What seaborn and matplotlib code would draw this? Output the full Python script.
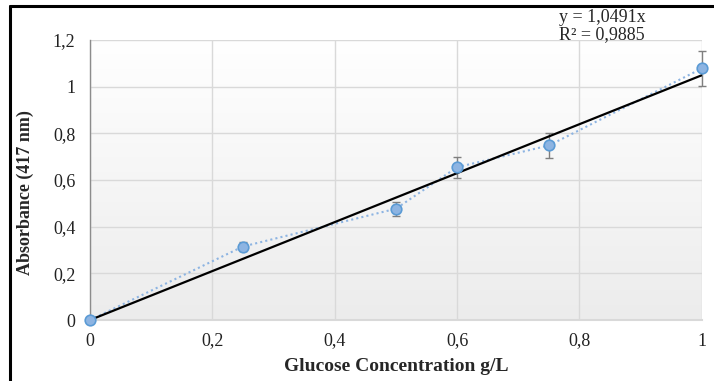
import numpy as np
import pandas as pd
import matplotlib
matplotlib.use("Agg")
import matplotlib.pyplot as plt
from matplotlib.colors import LinearSegmentedColormap
from matplotlib.ticker import FuncFormatter
from matplotlib.lines import Line2D
import seaborn as sns

# data
conc = [0.0, 0.25, 0.5, 0.6, 0.75, 1.0]
absorb = [0.0, 0.315, 0.477, 0.655, 0.748, 1.078]
err = [0.0, 0.02, 0.03, 0.045, 0.052, 0.075]
slope = 1.0491
eq_text = "y = 1,0491x"
r2_text = "R² = 0,9885"
x_ticks = [0, 0.2, 0.4, 0.6, 0.8, 1.0]
y_ticks = [0, 0.2, 0.4, 0.6, 0.8, 1.0, 1.2]

sns.set_style("white")
plt.rcParams["font.family"] = ["Liberation Serif", "DejaVu Serif"]

fig = plt.figure(figsize=(7.14, 3.81), dpi=100)
ax = fig.add_axes([0.126, 0.160, 0.857, 0.735])

# gradient background, white on top to light grey at the bottom
grad_cmap = LinearSegmentedColormap.from_list("g", ["#ffffff", "#ececec"])
ax.imshow(np.linspace(0, 1, 256).reshape(-1, 1), extent=[0, 1, 0, 1.2], aspect="auto",
          cmap=grad_cmap, origin="upper", zorder=0)

df = pd.DataFrame({"conc": conc, "abs": absorb})

# error bars
ax.errorbar(conc[1:], absorb[1:], yerr=err[1:], fmt="none", ecolor="#7f7f7f",
            elinewidth=1, capsize=3, capthick=1, zorder=3, clip_on=False)

# dotted series line
sns.lineplot(data=df, x="conc", y="abs", ax=ax, color="#8db4e2", linestyle=(0, (1, 1.5)),
             linewidth=1.5, zorder=4)

# trendline
trend = pd.DataFrame({"x": [0, 1], "y": [0, slope]})
sns.lineplot(data=trend, x="x", y="y", ax=ax, color="black", linewidth=1.6, zorder=5)

# markers
sns.scatterplot(data=df, x="conc", y="abs", ax=ax, s=58, color="#8db4e2",
                edgecolor="#5b9bd5", linewidth=1.2, zorder=6, clip_on=False)

ax.set_xlim(0, 1)
ax.set_ylim(0, 1.2)
ax.set_xticks(x_ticks)
ax.set_yticks(y_ticks)
fmt = FuncFormatter(lambda v, p: ("%g" % round(v, 2)).replace(".", ","))
ax.xaxis.set_major_formatter(fmt)
ax.yaxis.set_major_formatter(fmt)
ax.tick_params(axis="both", length=0, labelsize=13, colors="#222222")
ax.tick_params(axis="x", pad=9)
ax.tick_params(axis="y", pad=10.5)
ax.grid(True, color="#d9d9d9", linewidth=1)
ax.set_axisbelow(True)

for s in ["top", "right"]:
    ax.spines[s].set_visible(False)
ax.spines["left"].set_color("#8c8c8c")
ax.spines["bottom"].set_color("#d9d9d9")
ax.spines["left"].set_linewidth(1)
ax.spines["bottom"].set_linewidth(1.5)

ax.set_xlabel("Glucose Concentration g/L", fontsize=14, fontweight="bold")
ax.set_ylabel("Absorbance (417 nm)", fontsize=13, fontweight="bold")
ax.xaxis.set_label_coords(0.5, -0.135)
ax.yaxis.set_label_coords(-0.092, 0.454)

fig.text(0.843, 0.953, eq_text, ha="center", va="center", fontsize=13)
fig.text(0.843, 0.909, r2_text, ha="center", va="center", fontsize=13)

# black frame on left and top
fig.add_artist(Line2D([9.5 / 714, 9.5 / 714], [0, 1 - 6 / 381], color="black", linewidth=2.2,
                      transform=fig.transFigure))
fig.add_artist(Line2D([9.5 / 714, 1], [1 - 6 / 381, 1 - 6 / 381], color="black", linewidth=2.2,
                      transform=fig.transFigure))

fig.savefig("out.png", dpi=100)
